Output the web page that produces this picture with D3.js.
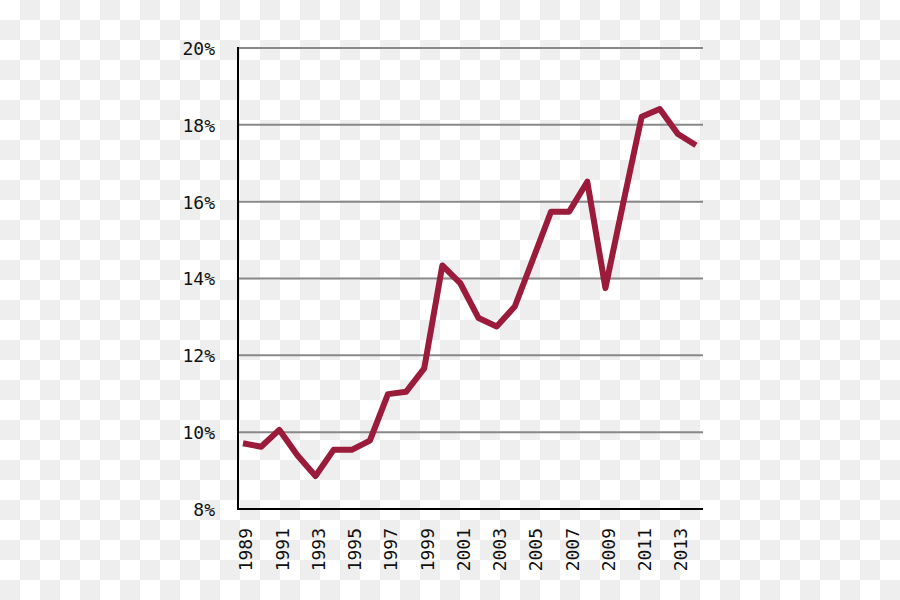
<!DOCTYPE html>
<html>
<head>
<meta charset="utf-8">
<script src="https://cdn.jsdelivr.net/npm/d3@7"></script>
<style>
  html, body { margin: 0; padding: 0; background: #fff; }
  svg { display: block; }
  text { font-family: "DejaVu Sans Mono", monospace; font-size: 18px; fill: #111; }
</style>
</head>
<body>
<svg id="chart" width="900" height="600"></svg>
<script>
const years = [1989,1990,1991,1992,1993,1994,1995,1996,1997,1998,1999,2000,2001,2002,2003,2004,2005,2006,2007,2008,2009,2010,2011,2012,2013,2014];
const values = [9.71,9.62,10.06,9.4,8.86,9.54,9.54,9.78,10.99,11.05,11.66,14.34,13.87,12.97,12.75,13.27,14.5,15.74,15.74,16.52,13.75,16.0,18.21,18.41,17.76,17.47];
const yTicks = [8,10,12,14,16,18,20];
const xTickYears = [1989,1991,1993,1995,1997,1999,2001,2003,2005,2007,2009,2011,2013];

(function () {
const svg = d3.select("#chart");
const W = 900, H = 600;

// checkerboard background
const defs = svg.append("defs");
const pat = defs.append("pattern").attr("id","checker").attr("width",40).attr("height",40).attr("patternUnits","userSpaceOnUse");
pat.append("rect").attr("width",40).attr("height",40).attr("fill","#ffffff");
pat.append("rect").attr("x",20).attr("y",0).attr("width",20).attr("height",20).attr("fill","#eeeeee");
pat.append("rect").attr("x",0).attr("y",20).attr("width",20).attr("height",20).attr("fill","#eeeeee");
svg.append("rect").attr("width",W).attr("height",H).attr("fill","url(#checker)");

const pLeft = 238, pRight = 703, pTop = 48, pBottom = 509;
const x = d3.scaleLinear().domain([1989, 2014]).range([243, 696]);
const y = d3.scaleLinear().domain([8, 20]).range([pBottom, pTop]);

// gridlines
svg.append("g").selectAll("line").data(yTicks.filter(d => d > 8)).join("line")
  .attr("x1", pLeft).attr("x2", pRight)
  .attr("y1", d => y(d)).attr("y2", d => y(d))
  .attr("stroke", "#888").attr("stroke-width", 2);

// y labels
svg.append("g").selectAll("text").data(yTicks).join("text")
  .attr("x", 215).attr("y", d => y(d)).attr("dy", "0.38em")
  .attr("text-anchor", "end")
  .text(d => d + "%");

// x labels (rotated)
svg.append("g").selectAll("text").data(xTickYears).join("text")
  .attr("transform", d => `translate(${x(d) + 3},528) rotate(-90)`)
  .attr("dy", "0.36em")
  .attr("text-anchor", "end")
  .text(d => d);

// axes lines
svg.append("line").attr("x1", pLeft).attr("x2", pLeft).attr("y1", pTop - 1).attr("y2", pBottom + 1)
  .attr("stroke", "#000").attr("stroke-width", 2);
svg.append("line").attr("x1", pLeft - 1).attr("x2", pRight).attr("y1", pBottom).attr("y2", pBottom)
  .attr("stroke", "#000").attr("stroke-width", 2);

// data line
const line = d3.line().x((d, i) => x(years[i])).y(d => y(d));
svg.append("path").datum(values)
  .attr("d", line)
  .attr("fill", "none")
  .attr("stroke", "#9b1b3b")
  .attr("stroke-width", 6)
  .attr("stroke-linejoin", "round");
})();
</script>
</body>
</html>
